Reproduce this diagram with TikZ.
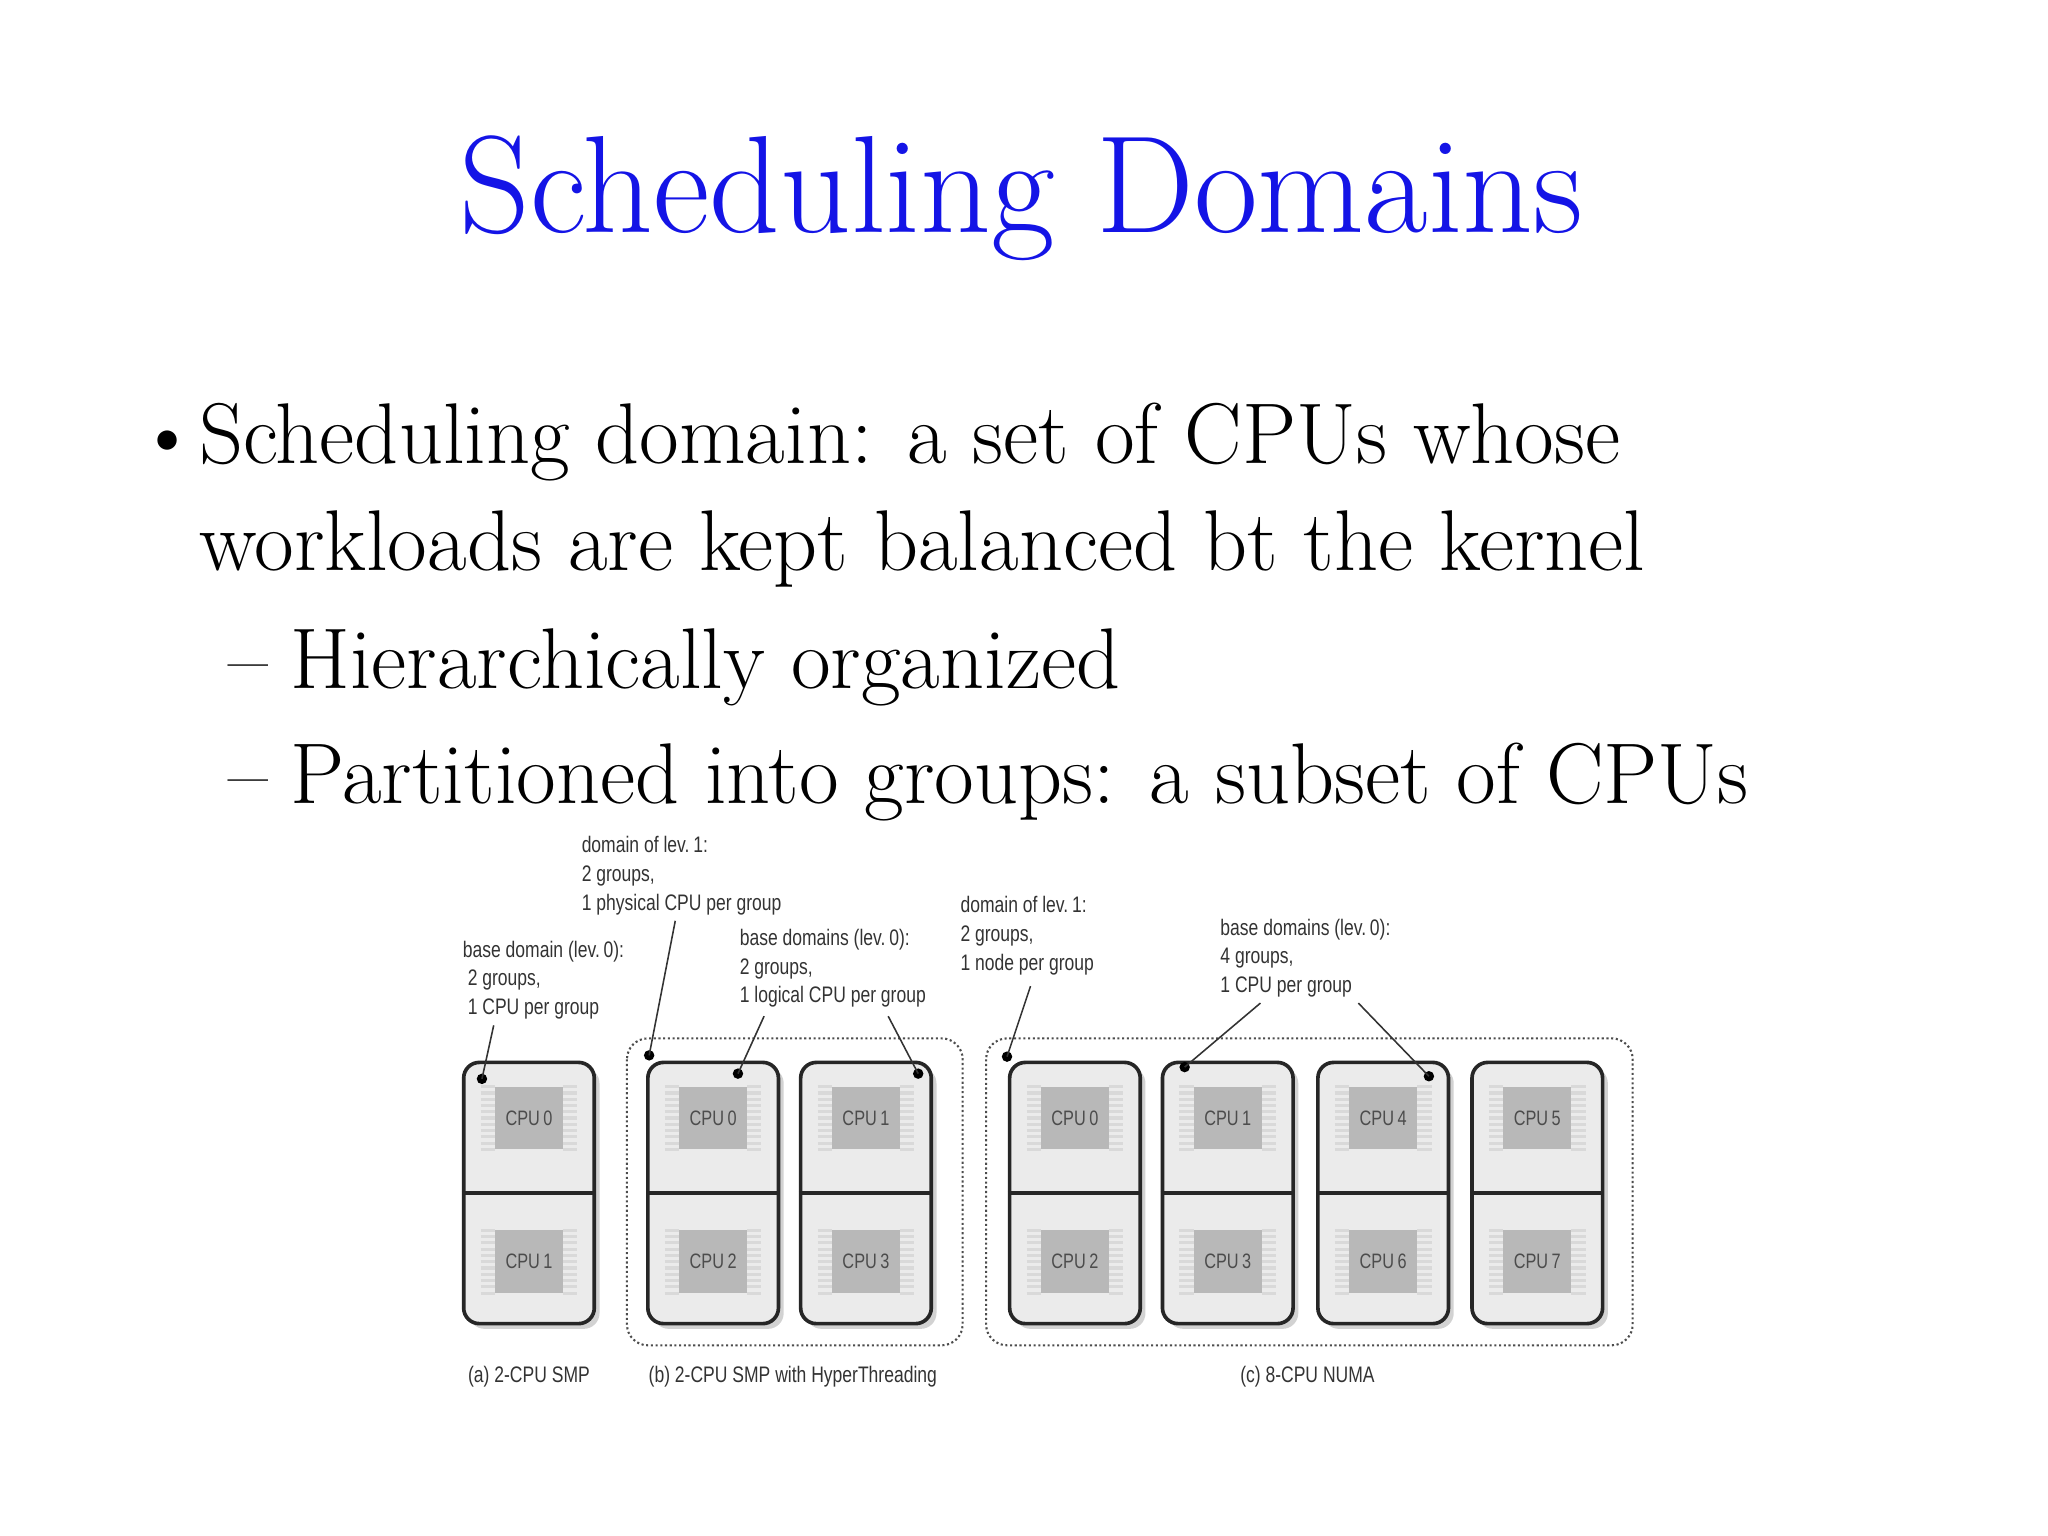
\documentclass[tikz,border=0pt]{standalone}
\usepackage{fontspec}
\newfontfamily\cond[FakeStretch=0.78]{Liberation Sans}
\usetikzlibrary{shadows}
\definecolor{titleblue}{RGB}{20,20,230}
\tikzset{
 boxhalf/.style={draw=black!85,line width=1.4pt,fill=black!8,rounded corners=6pt,minimum width=50pt,minimum height=100pt,drop shadow={shadow xshift=2pt,shadow yshift=-2pt,fill=black!35}},
 chip/.style={fill=black!28,minimum width=26pt,minimum height=24pt,inner sep=0pt,font=\cond\fontsize{8}{9}\selectfont,text=black!70},
 grp/.style={draw=black!70,densely dotted,line width=0.8pt,rounded corners=8pt},
 lbl/.style={font=\cond\fontsize{8.6}{11}\selectfont,align=left,anchor=north west,inner sep=0pt,text=black!80},
 captext/.style={font=\cond\fontsize{8.6}{11}\selectfont,text=black!80},
 ptr/.style={draw=black!80,line width=0.6pt},
 dotc/.style={circle,fill=black,inner sep=0pt,minimum size=4pt},
}
\newcommand\cpucol[4]{%
 \node[boxhalf,anchor=north] (#1) at (#2,812) {};
 \draw[black!85,line width=1.4pt] (#1.west) -- (#1.east);
 \foreach \yy/\tt/\nn in {856/#3/t,966/#4/b}{
  \foreach \k in {-10,-8,...,10}{
   \draw[black!15,line width=1.2pt] (#2-37,\yy+\k*2.4) -- (#2-26,\yy+\k*2.4);
   \draw[black!15,line width=1.2pt] (#2+26,\yy+\k*2.4) -- (#2+37,\yy+\k*2.4);}
  \node[chip] (#1\nn) at (#2,\yy) {CPU\,\tt};
 }}
\begin{document}
\begin{tikzpicture}[x=0.5pt,y=-0.5pt]
\useasboundingbox (0,0) rectangle (1568,1176);
\node[text=titleblue,font=\fontsize{53}{60}\selectfont] (title) at (782,152) {Scheduling Domains};
\begin{scope}[font=\fontsize{33}{40}\selectfont]
\node[anchor=base] (b1) at (128,355) {\textbullet};
\node[anchor=base west,inner sep=0pt] (l1) at (152,355) {Scheduling domain: a set of CPUs whose};
\node[anchor=base west,inner sep=0pt] (l2) at (152,437) {workloads are kept balanced bt the kernel};
\node[anchor=base] (d1) at (190,527) {--};
\node[anchor=base west,inner sep=0pt] (l3) at (222,527) {Hierarchically organized};
\node[anchor=base] (d2) at (190,615) {--};
\node[anchor=base west,inner sep=0pt] (l4) at (222,615) {Partitioned into groups: a subset of CPUs};
\end{scope}
\draw[grp] (480,795) rectangle (737,1030);
\draw[grp] (755,795) rectangle (1250,1030);
\cpucol{a}{405}{0}{1}
\cpucol{b0}{546}{0}{2}
\cpucol{b1}{663}{1}{3}
\cpucol{c0}{823}{0}{2}
\cpucol{c1}{940}{1}{3}
\cpucol{c2}{1059}{4}{6}
\cpucol{c3}{1177}{5}{7}
\node[lbl] (t1) at (354,720) {base domain (lev.\,0):\\\ 2 groups,\\\ 1 CPU per group};
\node[lbl] (t2) at (445,640) {domain of lev.\,1:\\2 groups,\\1 physical CPU per group};
\node[lbl] (t3) at (566,711) {base domains (lev.\,0):\\2 groups,\\1 logical CPU per group};
\node[lbl] (t4) at (735,686) {domain of lev.\,1:\\2 groups,\\1 node per group};
\node[lbl] (t5) at (934,703) {base domains (lev.\,0):\\4 groups,\\1 CPU per group};
\node[dotc] (p1) at (369,826) {};
\node[dotc] (p2) at (497,808) {};
\node[dotc] (p3) at (565,822) {};
\node[dotc] (p4) at (703,822) {};
\node[dotc] (p5) at (771,809) {};
\node[dotc] (p6) at (907,817) {};
\node[dotc] (p7) at (1094,824) {};
\coordinate (s1) at (378,785); \coordinate (s2) at (517,705);
\coordinate (s3) at (585,778); \coordinate (s4) at (680,778);
\coordinate (s5) at (789,755); \coordinate (s6) at (965,768);
\coordinate (s7) at (1040,768);
\draw[ptr] (s1)--(p1.center); \draw[ptr] (s2)--(p2.center);
\draw[ptr] (s3)--(p3.center); \draw[ptr] (s4)--(p4.center);
\draw[ptr] (s5)--(p5.center); \draw[ptr] (s6)--(p6.center);
\draw[ptr] (s7)--(p7.center);
\node[captext] (ca) at (405,1054) {(a) 2-CPU SMP};
\node[captext] (cb) at (607,1054) {(b) 2-CPU SMP with HyperThreading};
\node[captext] (cc) at (1001,1054) {(c) 8-CPU NUMA};
\end{tikzpicture}
\end{document}
